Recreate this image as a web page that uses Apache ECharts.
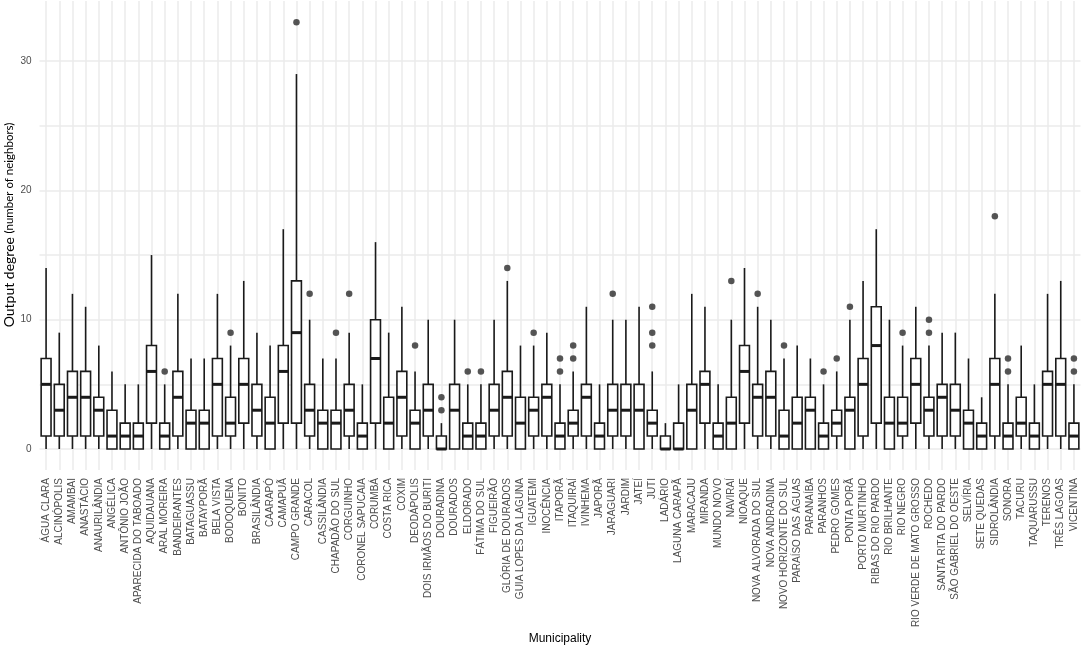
<!DOCTYPE html>
<html>
<head>
<meta charset="utf-8">
<script src="https://cdn.jsdelivr.net/npm/echarts@6/dist/echarts.min.js"></script>
<style>
  html, body { margin: 0; padding: 0; background: #ffffff; }
  #chart { width: 1084px; height: 647px; }
</style>
</head>
<body>
<div id="chart"></div>
<script>
const categories = [
  "ÁGUA CLARA","ALCINÓPOLIS","AMAMBAI","ANASTÁCIO","ANAURILÂNDIA","ANGÉLICA","ANTÔNIO JOÃO",
  "APARECIDA DO TABOADO","AQUIDAUANA","ARAL MOREIRA","BANDEIRANTES","BATAGUASSU","BATAYPORÃ",
  "BELA VISTA","BODOQUENA","BONITO","BRASILÂNDIA","CAARAPÓ","CAMAPUÃ","CAMPO GRANDE","CARACOL",
  "CASSILÂNDIA","CHAPADÃO DO SUL","CORGUINHO","CORONEL SAPUCAIA","CORUMBÁ","COSTA RICA","COXIM",
  "DEODÁPOLIS","DOIS IRMÃOS DO BURITI","DOURADINA","DOURADOS","ELDORADO","FÁTIMA DO SUL",
  "FIGUEIRÃO","GLÓRIA DE DOURADOS","GUIA LOPES DA LAGUNA","IGUATEMI","INOCÊNCIA","ITAPORÃ",
  "ITAQUIRAÍ","IVINHEMA","JAPORÃ","JARAGUARI","JARDIM","JATEÍ","JUTI","LADÁRIO","LAGUNA CARAPÃ",
  "MARACAJU","MIRANDA","MUNDO NOVO","NAVIRAÍ","NIOAQUE","NOVA ALVORADA DO SUL","NOVA ANDRADINA",
  "NOVO HORIZONTE DO SUL","PARAÍSO DAS ÁGUAS","PARANAÍBA","PARANHOS","PEDRO GOMES","PONTA PORÃ",
  "PORTO MURTINHO","RIBAS DO RIO PARDO","RIO BRILHANTE","RIO NEGRO","RIO VERDE DE MATO GROSSO",
  "ROCHEDO","SANTA RITA DO PARDO","SÃO GABRIEL DO OESTE","SELVÍRIA","SETE QUEDAS","SIDROLÂNDIA",
  "SONORA","TACURU","TAQUARUSSU","TERENOS","TRÊS LAGOAS","VICENTINA"
];
const whiskerLow = [
  0,0,0,0,0,0,0,0,0,0,0,0,0,0,0,0,0,0,0,0,0,0,0,0,0,0,0,0,0,0,0,0,0,0,0,0,0,0,0,0,
  0,0,0,0,0,0,0,0,0,0,0,0,0,0,0,0,0,0,0,0,0,0,0,0,0,0,0,0,0,0,0,0,0,0,0,0,0,0,0
];
const q1 = [
  1,1,1,1,1,0,0,0,2,0,1,0,0,1,1,2,1,0,2,2,1,0,0,1,0,2,0,1,0,1,0,0,0,0,1,1,0,1,1,0,
  1,1,0,1,1,0,1,0,0,0,2,0,0,2,1,1,0,0,0,0,1,0,1,2,0,1,2,1,1,1,0,0,1,0,1,0,1,1,0
];
const median = [
  5,3,4,4,3,1,1,1,6,1,4,2,2,5,2,5,3,2,6,9,3,2,2,3,1,7,2,4,2,3,0,3,1,1,3,4,2,3,4,1,
  2,4,1,3,3,3,2,0,0,3,5,1,2,6,4,4,1,2,3,1,2,3,5,8,2,2,5,3,4,3,2,1,5,1,2,1,5,5,1
];
const q3 = [
  7,5,6,6,4,3,2,2,8,2,6,3,3,7,4,7,5,4,8,13,5,3,3,5,2,10,4,6,3,5,1,5,2,2,5,6,4,4,5,2,
  3,5,2,5,5,5,3,1,2,5,6,2,4,8,5,6,3,4,4,2,3,4,7,11,4,4,7,4,5,5,3,2,7,2,4,2,6,7,2
];
const whiskerHigh = [
  14,9,12,11,8,6,5,5,15,5,12,7,7,12,8,13,9,8,17,29,10,7,7,9,5,16,9,11,6,10,2,10,5,5,10,13,8,8,9,5,
  6,11,5,10,10,11,6,2,5,12,11,5,10,14,11,10,7,8,7,5,6,10,13,17,10,8,11,8,9,9,7,4,12,5,8,5,12,13,5
];
const outlierMunicipality = [
  "ARAL MOREIRA","BODOQUENA","CAMPO GRANDE","CARACOL","CHAPADÃO DO SUL","CORGUINHO","DEODÁPOLIS",
  "DOURADINA","DOURADINA","ELDORADO","FÁTIMA DO SUL","GLÓRIA DE DOURADOS","IGUATEMI","ITAPORÃ","ITAPORÃ",
  "ITAQUIRAÍ","ITAQUIRAÍ","JARAGUARI","JUTI","JUTI","JUTI","NAVIRAÍ","NOVA ALVORADA DO SUL",
  "NOVO HORIZONTE DO SUL","PARANHOS","PEDRO GOMES","PONTA PORÃ","RIO NEGRO","ROCHEDO","ROCHEDO",
  "SIDROLÂNDIA","SONORA","SONORA","VICENTINA","VICENTINA"
];
const outlierValue = [
  6,9,33,12,9,12,8,
  3,4,6,6,14,9,6,7,
  7,8,12,8,9,11,13,12,
  8,6,7,11,9,9,10,
  18,6,7,6,7
];
const yTickLabels = ["0","10","20","30"];

const boxData = categories.map((c, i) => [c, whiskerLow[i], q1[i], median[i], q3[i], whiskerHigh[i]]);
const outlierData = outlierMunicipality.map((m, i) => [m, outlierValue[i]]);

const chart = echarts.init(document.getElementById('chart'), null, { renderer: 'canvas' });
const lineCol = '#1a1a1a';
const gridCol = '#ebebeb';

chart.setOption({
  animation: false,
  backgroundColor: '#ffffff',
  grid: { left: 39.5, right: 3.5, top: 1, bottom: 198, containLabel: false, outerBoundsMode: 'none' },
  xAxis: {
    type: 'category',
    data: categories,
    boundaryGap: true,
    name: 'Municipality',
    nameLocation: 'middle',
    nameGap: 184,
    nameMoveOverlap: false,
    nameTextStyle: { fontFamily: 'Liberation Sans', fontSize: 12, color: '#000000' },
    axisLine: { show: false },
    axisTick: { show: true, alignWithLabel: true, interval: 0, length: 21, lineStyle: { color: gridCol, width: 1.5 } },
    splitLine: { show: true, alignWithLabel: true, interval: 0, lineStyle: { color: gridCol, width: 1.5 } },
    axisLabel: {
      interval: 0, rotate: 90, margin: 29,
      fontFamily: 'Liberation Sans', fontSize: 10, color: '#4d4d4d'
    }
  },
  yAxis: {
    type: 'value',
    min: 0, max: 34.65, interval: 5,
    name: '{a|Output degree }{b|(number of neighbors)}',
    nameLocation: 'middle',
    nameRotate: 90,
    nameGap: 23,
    nameMoveOverlap: false,
    nameTextStyle: {
      rich: {
        a: { fontFamily: 'Lato', fontSize: 14, color: '#000000' },
        b: { fontFamily: 'Lato', fontSize: 11.5, color: '#000000' }
      }
    },
    axisLine: { show: false },
    axisTick: { show: false },
    splitLine: { show: true, showMaxLine: false, lineStyle: { color: gridCol, width: 1.5 } },
    axisLabel: {
      showMaxLabel: false,
      margin: 8,
      fontFamily: 'Liberation Sans', fontSize: 10, color: '#4d4d4d',
      formatter: v => (yTickLabels.indexOf(String(v)) >= 0 ? String(v) : '')
    }
  },
  series: [
    {
      type: 'custom',
      data: boxData,
      encode: { x: 0, y: [1, 2, 3, 4, 5] },
      z: 3,
      renderItem: function (params, api) {
        const i = api.value(0);
        const pLow = api.coord([i, api.value(1)]);
        const pQ1 = api.coord([i, api.value(2)]);
        const pMed = api.coord([i, api.value(3)]);
        const pQ3 = api.coord([i, api.value(4)]);
        const pHigh = api.coord([i, api.value(5)]);
        const bw = api.size([1, 0])[0] * 0.75;
        const x = pMed[0];
        const st = { stroke: lineCol, lineWidth: 1.6 };
        return {
          type: 'group',
          children: [
            { type: 'line', shape: { x1: x, y1: pQ3[1], x2: x, y2: pHigh[1] }, style: st },
            { type: 'line', shape: { x1: x, y1: pQ1[1], x2: x, y2: pLow[1] }, style: st },
            { type: 'rect', shape: { x: x - bw / 2, y: pQ3[1], width: bw, height: pQ1[1] - pQ3[1] },
              style: { fill: '#ffffff', stroke: lineCol, lineWidth: 1.6 } },
            { type: 'line', shape: { x1: x - bw / 2, y1: pMed[1], x2: x + bw / 2, y2: pMed[1] },
              style: { stroke: lineCol, lineWidth: 3 } }
          ]
        };
      }
    },
    {
      type: 'scatter',
      data: outlierData,
      symbol: 'circle',
      symbolSize: 6.5,
      z: 4,
      itemStyle: { color: '#2b2b2b' }
    }
  ]
});
</script>
</body>
</html>
